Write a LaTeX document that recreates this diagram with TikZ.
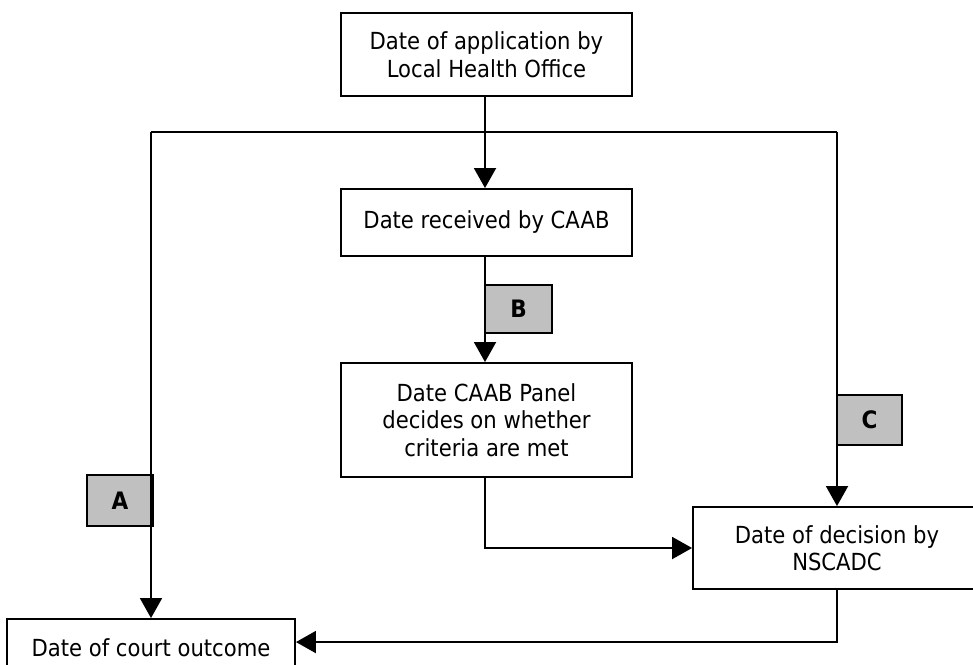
\documentclass[tikz,border=0pt]{standalone}
\usepackage{fontspec}
\setmainfont{DejaVu Sans Condensed}
\usetikzlibrary{arrows.meta}
\definecolor{lblgray}{HTML}{C0C0C0}
\tikzset{
  x=1pt, y=-1pt,
  boxnode/.style={draw, line width=1.9pt, inner sep=0pt, align=center,
    font=\fontsize{23.5}{27.5}\selectfont},
  tagnode/.style={draw, line width=1.9pt, fill=lblgray, inner sep=0pt,
    font=\fontsize{24}{28}\selectfont\bfseries},
  conn/.style={line width=1.9pt},
  arr/.style={conn, -{Triangle[length=20pt,width=22pt]}},
}
\begin{document}
\begin{tikzpicture}
\useasboundingbox (0,0) rectangle (973,664);
\node[boxnode, minimum width=291pt, minimum height=83pt] (top) at (486.5,54.5)
  {Date of application by\\Local Health Office};
\node[boxnode, minimum width=291pt, minimum height=67pt] (recv) at (486.5,222.5)
  {Date received by CAAB};
\node[boxnode, minimum width=291pt, minimum height=114pt] (panel) at (486.5,420)
  {Date CAAB Panel\\decides on whether\\criteria are met};
\node[boxnode, minimum width=288pt, minimum height=82pt] (nsc) at (837,548)
  {Date of decision by\\NSCADC};
\node[boxnode, minimum width=288pt, minimum height=58pt] (court) at (151,648)
  {Date of court outcome};
\node[tagnode, minimum width=66pt, minimum height=51pt] (tA) at (120,500.5) {A};
\node[tagnode, minimum width=67pt, minimum height=48pt] (tB) at (518.5,309) {B};
\node[tagnode, minimum width=65pt, minimum height=50pt] (tC) at (869.5,420) {C};
\coordinate (cA) at (151,132);
\coordinate (cC) at (837,132);
\coordinate (mid) at (485,0);
\draw[arr] (top.south -| mid) -- (recv.north -| mid);
\draw[conn] (cA) -- (cC);
\draw[arr] (cA) -- (court.north);
\draw[arr] (cC) -- (nsc.north);
\draw[arr] (recv.south -| mid) -- (panel.north -| mid);
\draw[arr] (panel.south -| mid) |- (nsc.west);
\draw[arr] (nsc.south) |- ([yshift=-24pt]court.north east);
\end{tikzpicture}
\end{document}
